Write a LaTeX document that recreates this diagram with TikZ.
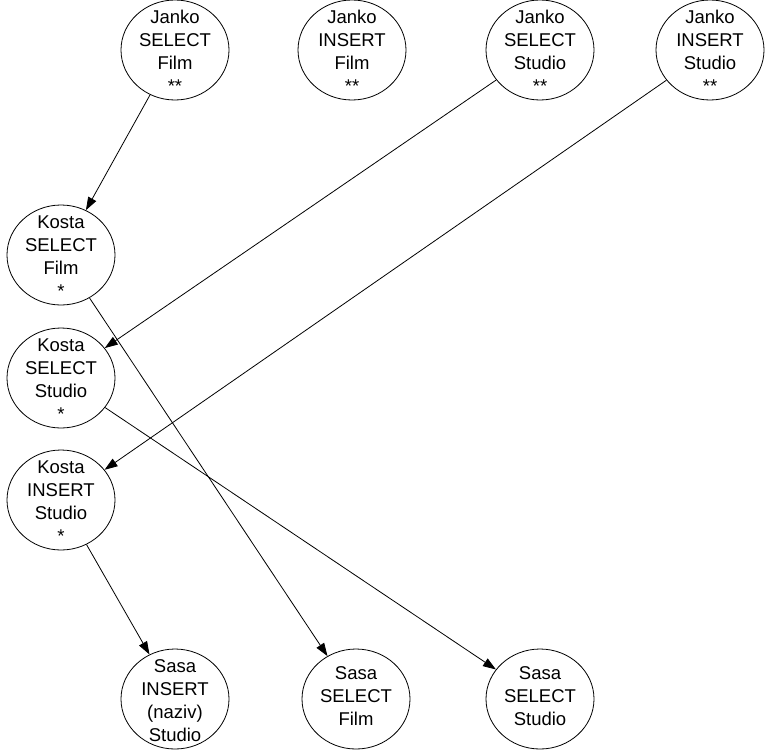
\documentclass[tikz,border=0pt]{standalone}
\usepackage{fontspec}
\setmainfont{Liberation Sans}
\usetikzlibrary{shapes.geometric,arrows.meta}
\newcommand\lbl[2][-16pt]{\makebox[0pt]{\raisebox{#1}{\smash{\begin{tabular}[c]{@{}c@{}}#2\end{tabular}}}}}
\begin{document}
\begin{tikzpicture}[x=1pt,y=-1pt,
  ell/.style={draw,ellipse,minimum width=108pt,minimum height=100pt,inner sep=0pt,line width=0.8pt,
    font=\fontsize{18.5}{23}\selectfont},
  edge/.style={line width=0.8pt,-{Triangle[length=13pt,width=9pt]}}]
\useasboundingbox (0,0) rectangle (767,750);
\node[ell] (jsf) at (175,50) {\lbl{Janko\\SELECT\\Film\\{**}}};
\node[ell] (jif) at (352,50) {\lbl{Janko\\INSERT\\Film\\{**}}};
\node[ell] (jss) at (540,50) {\lbl{Janko\\SELECT\\Studio\\{**}}};
\node[ell] (jis) at (710,50) {\lbl{Janko\\INSERT\\Studio\\{**}}};
\node[ell] (ksf) at (61,255) {\lbl{Kosta\\SELECT\\Film\\{*}}};
\node[ell] (kss) at (61,378) {\lbl{Kosta\\SELECT\\Studio\\{*}}};
\node[ell] (kis) at (61,500) {\lbl{Kosta\\INSERT\\Studio\\{*}}};
\node[ell] (sis) at (175,699) {\lbl{Sasa\\INSERT\\(naziv)\\Studio}};
\node[ell] (ssf) at (356,699) {\lbl[-6pt]{Sasa\\SELECT\\Film}};
\node[ell] (sss) at (540,699) {\lbl[-6pt]{Sasa\\SELECT\\Studio}};
\draw[edge] (jsf) -- (ksf);
\draw[edge] (jss) -- (kss);
\draw[edge] (jis) -- (kis);
\draw[edge] (ksf) -- (ssf);
\draw[edge] (kss) -- (sss);
\draw[edge] (kis) -- (sis);
\end{tikzpicture}
\end{document}
